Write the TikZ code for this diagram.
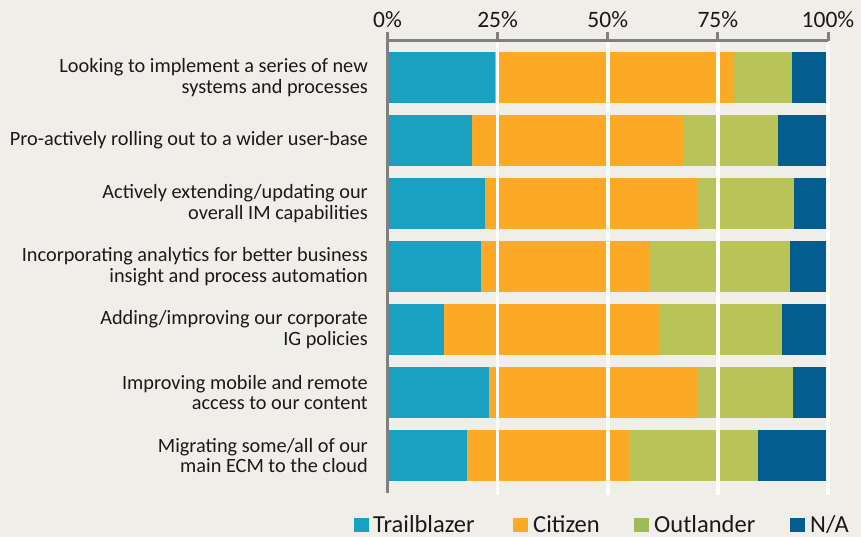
\documentclass[tikz,border=0pt]{standalone}
\usepackage{fontspec}
\setmainfont{Carlito}
\usetikzlibrary{positioning}
\definecolor{trail}{RGB}{26,160,192}
\definecolor{citizen}{RGB}{252,170,38}
\definecolor{outl}{RGB}{185,196,88}
\definecolor{outlkey}{RGB}{157,187,89}
\definecolor{na}{RGB}{3,93,143}
\definecolor{bg}{RGB}{239,238,232}
\definecolor{axisgray}{RGB}{128,128,128}
\definecolor{txt}{RGB}{26,26,26}
\tikzset{
  catlabel/.style={anchor=east,align=right,inner sep=0pt,text=txt,font=\fontsize{20.3}{20.7}\selectfont},
  pctlabel/.style={anchor=base,inner sep=0pt,text=txt,font=\fontsize{23.5}{28}\selectfont},
  keybox/.style={minimum width=15pt,minimum height=14pt,inner sep=0pt,anchor=south west},
  keytext/.style={anchor=base west,inner sep=0pt,text=txt,font=\fontsize{24.5}{30}\selectfont},
}

\begin{document}
\begin{tikzpicture}[x=1pt,y=-1pt]
\fill[bg] (0,0) rectangle (861,537);
\useasboundingbox (0,0) rectangle (861,537);

% stacked bars, in percent
\begin{scope}[xshift=387.5pt,x=4.405pt]
\foreach \i/\a/\b/\c in {1/24.5/78.4/91.8, 2/19.2/67.4/88.6, 3/22.1/70.4/92.3,
  4/21.2/59.5/91.4, 5/12.8/61.6/89.5, 6/23.0/70.4/92.1, 7/18.0/55.0/84.1}{
  \pgfmathsetmacro{\yt}{52+63*(\i-1)}
  \fill[trail] (0,\yt) rectangle (\a,\yt+51);
  \fill[citizen] (\a,\yt) rectangle (\b,\yt+51);
  \fill[outl] (\b,\yt) rectangle (\c,\yt+51);
  \fill[na] (\c,\yt) rectangle (100,\yt+51);
}
\foreach \p in {25,50,75,100}
\draw[white,line width=3.5pt] (\p,41) -- (\p,495);
\draw[axisgray,line width=3pt] (0,493) -- (0,41) -- (100,41);
\foreach \p in {0,25,50,75,100}{
\draw[axisgray,line width=3pt] (\p,41) -- (\p,32);
\node[pctlabel] (pct\p) at (\p,28) {\p\%};
}
\end{scope}

\node[catlabel] (lbl1) at (368,77.5) {Looking to implement a series of new\\systems and processes\ };
\node[catlabel] (lbl2) at (368,140.5) {Pro-actively rolling out to a wider user-base};
\node[catlabel] (lbl3) at (368,203.5) {Actively extending/updating our\\overall IM capabilities};
\node[catlabel] (lbl4) at (368,266.5) {Incorporating analytics for better business\\insight and process automation};
\node[catlabel] (lbl5) at (368,329.5) {Adding/improving our corporate\ \\IG policies\ };
\node[catlabel] (lbl6) at (368,392.5) {Improving mobile and remote\\access to our content};
\node[catlabel] (lbl7) at (368,455.5) {Migrating some/all of our\\main ECM to the cloud};

% legend
\node[keybox,fill=trail] (keytrail) at (354,532) {};
\node[keytext] (txttrail) at (373,532) {Trailblazer};
\node[keybox,fill=citizen] (keycit) at (513,532) {};
\node[keytext] (txtcit) at (533,532) {Citizen};
\node[keybox,fill=outlkey] (keyout) at (634,532) {};
\node[keytext] (txtout) at (654,532) {Outlander};
\node[keybox,fill=na] (keyna) at (790,532) {};
\node[keytext] (txtna) at (810,532) {N/A};
\end{tikzpicture}
\end{document}
